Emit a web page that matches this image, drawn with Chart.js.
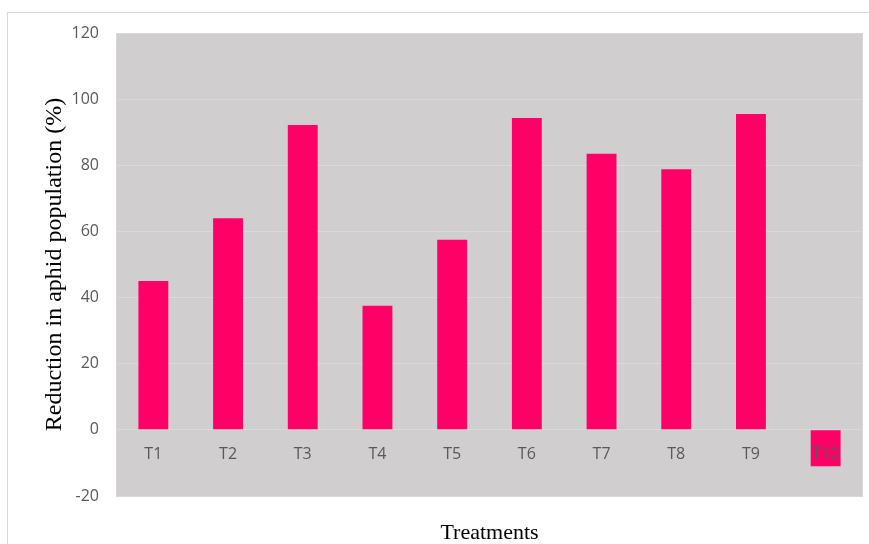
<!DOCTYPE html>
<html>
<head>
<meta charset="utf-8">
<script src="https://cdn.jsdelivr.net/npm/chart.js@4/dist/chart.umd.min.js"></script>
<style>
  html, body { margin: 0; padding: 0; background: #ffffff; }
  #wrap { position: relative; width: 869px; height: 544px; }
</style>
</head>
<body>
<div id="wrap"><canvas id="c" width="869" height="544"></canvas></div>
<script>
const categories = ['T1', 'T2', 'T3', 'T4', 'T5', 'T6', 'T7', 'T8', 'T9', 'T10'];
const reduction = [45, 64, 92.2, 37.5, 57.5, 94.3, 83.5, 78.8, 95.5, -11];
const yMin = -20, yMax = 120, yStep = 20;
const yTitle = 'Reduction in aphid population (%)';
const xTitle = 'Treatments';

const decor = {
  id: 'decor',
  beforeDraw(chart) {
    const {ctx, chartArea: a} = chart;
    ctx.save();
    ctx.strokeStyle = '#D9D9D9';
    ctx.lineWidth = 1;
    ctx.strokeRect(7.5, 12.5, 900, 600);
    ctx.fillStyle = '#D0CECE';
    ctx.fillRect(a.left, a.top, a.right - a.left, a.bottom - a.top);
    ctx.restore();
  },
  afterDraw(chart) {
    const {ctx, chartArea: a} = chart;
    ctx.save();
    ctx.strokeStyle = '#D9D9D9';
    ctx.lineWidth = 1;
    ctx.beginPath();
    ctx.moveTo(a.right - 0.5, a.top);
    ctx.lineTo(a.right - 0.5, a.bottom);
    ctx.stroke();
    ctx.restore();
  }
};

new Chart(document.getElementById('c'), {
  type: 'bar',
  data: {
    labels: categories,
    datasets: [{
      data: reduction,
      backgroundColor: '#FF0066',
      borderWidth: 0,
      barPercentage: 0.4,
      categoryPercentage: 1
    }]
  },
  options: {
    responsive: false,
    animation: false,
    layout: { padding: { top: 33, left: 0, right: 6, bottom: 0 } },
    plugins: {
      legend: { display: false },
      tooltip: { enabled: false },
      title: {
        display: true,
        position: 'bottom',
        fullSize: false,
        text: xTitle,
        color: '#000000',
        font: { family: '"Liberation Serif", "Times New Roman", serif', size: 22, weight: 'normal', lineHeight: 1 },
        padding: { top: 26, bottom: 0 }
      }
    },
    scales: {
      x: {
        type: 'category',
        position: { y: 0 },
        grid: { display: false },
        border: { display: false },
        ticks: {
          z: 1,
          autoSkip: false,
          color: '#595959',
          font: { family: '"Open Sans", sans-serif', size: 16 },
          padding: 7,
          maxRotation: 0
        }
      },
      y: {
        min: yMin,
        max: yMax,
        afterFit(scale) { scale.width = 116; },
        grid: { color: '#D9D9D9', lineWidth: 1, drawTicks: false },
        border: { display: true, color: '#D9D9D9' },
        ticks: {
          stepSize: yStep,
          color: '#595959',
          font: { family: '"Open Sans", sans-serif', size: 16 },
          padding: 17
        },
        title: {
          display: true,
          text: yTitle,
          color: '#000000',
          font: { family: '"Liberation Serif", "Times New Roman", serif', size: 24, weight: 'normal' },
          padding: { top: 40, bottom: 0 }
        }
      }
    }
  },
  plugins: [decor]
});
</script>
</body>
</html>
